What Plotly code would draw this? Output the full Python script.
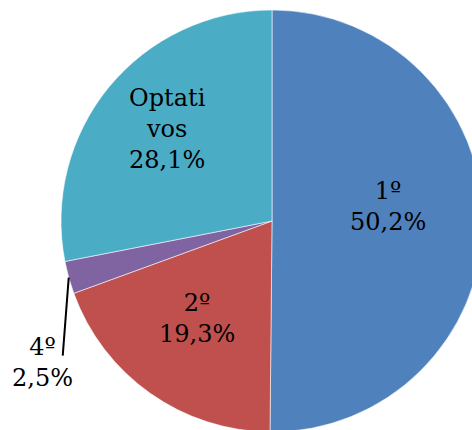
import math
import plotly.graph_objects as go

# ---- data ----
labels = ["1º", "2º", "4º", "Optativos"]
label_text = ["1º", "2º", "4º", "Optati<br>vos"]
values = [50.2, 19.3, 2.5, 28.1]
value_text = ["50,2%", "19,3%", "2,5%", "28,1%"]
colors = ["#4F81BD", "#C0504D", "#8064A2", "#4BACC6"]

# ---- style ----
W, H = 483, 432
dom_x = [61 / W, 1.0]
dom_y = [0.0, (H - 10) / H]
label_frac = [0.55, 0.62, None, 0.642]   # radial placement of inside labels
label_nudge = [-15, -9.5, 0, -6]         # vertical pixel nudge of labels
FONT = dict(family="DejaVu Serif", size=24, color="black")

fig = go.Figure(go.Pie(
    labels=labels, values=values, sort=False, direction="clockwise",
    rotation=0, textinfo="none", hoverinfo="label+percent",
    marker=dict(colors=colors, line=dict(color="rgba(255,255,255,0.7)", width=0.8)),
    domain=dict(x=dom_x, y=dom_y), showlegend=False,
))

# geometry of the pie in pixels (plotly: radius = half of smaller domain side)
dw = (dom_x[1] - dom_x[0]) * W
dh = (dom_y[1] - dom_y[0]) * H
R = min(dw, dh) / 2
cx = (dom_x[0] + dom_x[1]) / 2 * W
cy = H - (dom_y[0] + dom_y[1]) / 2 * H

total = sum(values)
cum = 0
annotations, shapes = [], []
for i, v in enumerate(values):
    mid = (cum + v / 2) / total * 2 * math.pi
    cum += v
    sx, sy = math.sin(mid), -math.cos(mid)
    text = f"{label_text[i]}<br>{value_text[i]}"
    if label_frac[i] is not None:
        px = cx + R * label_frac[i] * sx
        py = cy + R * label_frac[i] * sy + label_nudge[i]
        annotations.append(dict(x=px / W, y=1 - py / H, xref="paper", yref="paper",
                                text=text, showarrow=False, font=FONT,
                                xanchor="center", yanchor="middle", align="center"))
    else:
        x0 = cx + R * sx
        y0 = cy + R * sy
        x1, y1 = x0 - 6, y0 + 78
        shapes.append(dict(type="line", xref="paper", yref="paper",
                           x0=x0 / W, y0=1 - y0 / H, x1=x1 / W, y1=1 - y1 / H,
                           line=dict(color="black", width=2)))
        annotations.append(dict(x=(x1 - 20) / W, y=1 - (y1 + 7) / H, xref="paper", yref="paper",
                                text=text, showarrow=False, font=FONT,
                                xanchor="center", yanchor="middle", align="center"))

fig.update_layout(width=W, height=H, margin=dict(l=0, r=0, t=0, b=0),
                  paper_bgcolor="white", plot_bgcolor="white",
                  annotations=annotations, shapes=shapes)
fig.write_html("out.html", config={"displayModeBar": False},
               post_script="document.body.style.margin='0';document.body.style.overflow='hidden';")
